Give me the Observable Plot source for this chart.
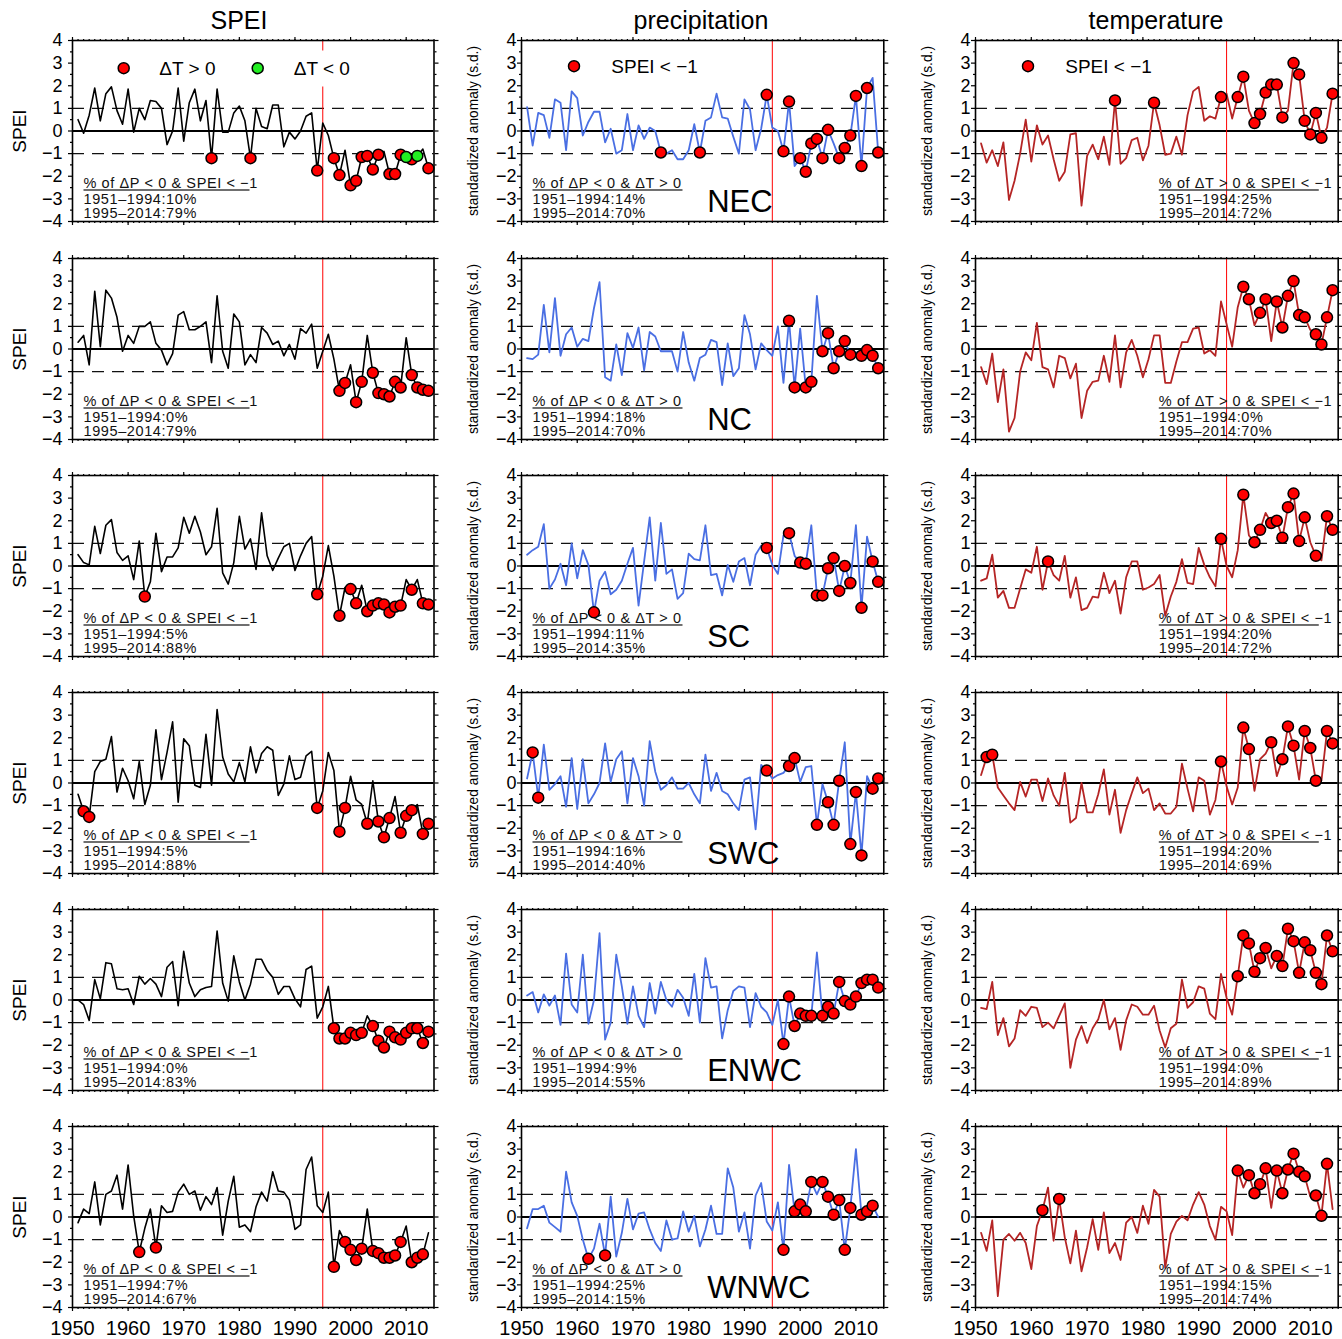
<!DOCTYPE html>
<html><head><meta charset="utf-8">
<script src="https://cdn.jsdelivr.net/npm/d3@7"></script>
<script src="https://cdn.jsdelivr.net/npm/@observablehq/plot@0.6"></script>
<style>
body{margin:0;background:#fff;}
#root{position:relative;width:1342px;height:1339px;font-family:"Liberation Sans",Arial,Helvetica,sans-serif;overflow:hidden;background:#fff;}
.title{position:absolute;top:8px;font-size:25px;line-height:25px;transform:translateX(-50%);white-space:nowrap;color:#000;}
.panel{position:absolute;line-height:0;}
.panel svg{max-width:none !important;display:block;}
</style></head><body><div id="root"></div>
<script>
// ---------- data (1951–2014) ----------
const years = d3.range(1951, 2015);
const regions = ["NEC", "NC", "SC", "SWC", "ENWC", "WNWC"];
const columnTitles = ["SPEI", "precipitation", "temperature"];
const yLabels = ["SPEI", "standardized anomaly (s.d.)", "standardized anomaly (s.d.)"];
const yTicks = [-4, -3, -2, -1, 0, 1, 2, 3, 4];
const yMinorTicks = [-3.5, -2.5, -1.5, -0.5, 0.5, 1.5, 2.5, 3.5];
const xTicks = [1950, 1960, 1970, 1980, 1990, 2000, 2010];
const xMinorTicks = d3.range(1950, 2016);
const splitYear = 1995;

const speiNEC = [0.5,-0.1,0.7,1.9,0.45,1.65,1.95,0.9,0.3,1.85, -0.05,1.0,0.5,1.35,1.3,1.0,-0.6,0.0,1.9,-0.45, 1.25,1.85,0.45,1.35,-1.2,1.85,-0.05,-0.05,0.8,1.1, 0.45,-1.2,1.0,0.2,0.1,1.15,1.15,-0.7,-0.05,-0.35, 0.0,0.65,0.8,-1.75,0.35,-0.2,-1.2,-1.95,-0.85,-2.4, -2.2,-1.15,-1.1,-1.7,-1.05,-0.9,-1.9,-1.9,-1.05,-1.15, -1.25,-1.1,-0.8,-1.65];
const speiNC = [0.3,0.6,-0.7,2.55,0.1,2.6,2.25,1.4,-0.1,0.6, 0.25,1.0,1.0,1.2,0.25,-0.05,-0.7,-0.2,1.5,1.65, 0.85,0.85,1.0,1.2,-0.6,2.35,-0.1,-0.85,1.55,1.2, -0.7,-0.25,-0.6,0.95,0.7,0.2,0.35,-0.3,0.2,-0.45, 0.9,0.7,1.1,-0.85,-0.1,0.65,-0.45,-1.85,-1.5,-0.7, -2.35,-1.45,0.6,-1.05,-1.95,-2.0,-2.1,-1.45,-1.7,0.5, -1.15,-1.7,-1.8,-1.85];
const speiSC = [0.5,0.15,0.05,1.75,0.55,1.8,2.05,0.6,0.25,0.45, -0.6,1.1,-1.35,-0.7,1.45,-0.25,0.4,0.4,0.8,2.15, 1.45,2.2,1.5,0.5,0.85,2.55,-0.3,-0.8,0.15,2.2, 0.75,1.2,-0.15,2.35,0.45,-0.2,0.35,0.85,1.0,-0.2, 0.45,1.0,1.3,-1.25,-0.45,0.9,-0.45,-2.2,-0.95,-1.02, -1.65,-0.85,-2.0,-1.75,-1.65,-1.7,-2.05,-1.8,-1.75,-0.6, -1.05,-0.6,-1.65,-1.7];
const speiSWC = [-0.5,-1.25,-1.5,0.5,0.95,1.05,2.05,-0.4,0.65,0.1, -0.7,0.95,-0.95,-0.1,2.35,0.15,1.35,2.7,-0.85,1.95, 1.65,-0.1,-0.2,2.15,-0.1,3.25,1.15,0.4,0.05,0.9, 0.05,1.6,0.45,1.3,1.6,1.45,-0.55,-0.05,1.2,0.15, 0.25,1.2,1.4,-1.1,-0.35,1.35,0.55,-2.15,-1.1,0.3, -0.75,-0.95,-1.8,0.1,-1.7,-2.4,-1.55,-0.6,-2.2,-1.45, -1.2,-0.95,-2.25,-1.8];
const speiENWC = [0.0,-0.2,-0.9,0.9,0.05,1.65,1.6,0.5,0.45,0.5, -0.2,1.05,0.7,0.95,0.7,0.15,1.45,1.7,-0.25,2.15, 0.75,0.15,0.45,0.55,0.6,3.05,0.75,-0.05,1.95,0.8, 0.0,0.7,1.8,1.8,1.3,1.0,0.25,0.6,0.6,0.05, -0.3,1.35,1.5,-0.8,-0.3,0.6,-1.25,-1.7,-1.7,-1.45, -1.55,-1.45,-0.7,-1.15,-1.8,-2.1,-1.4,-1.65,-1.75,-1.45, -1.25,-1.25,-1.9,-1.4];
const speiWNWC = [-0.25,0.35,0.15,1.55,-0.35,1.0,1.15,1.85,0.35,2.3, 0.05,-1.55,-0.5,0.35,-1.35,0.5,0.2,0.25,1.1,1.45, 1.0,1.15,0.3,0.9,0.55,1.3,-0.8,0.7,1.8,-0.45, -0.35,-0.65,0.45,1.1,0.7,2.0,1.15,1.1,0.75,-0.55, -0.35,2.1,2.65,0.5,0.2,1.1,-2.2,-0.6,-1.1,-1.45, -1.9,-1.4,0.35,-1.5,-1.6,-1.8,-1.8,-1.7,-1.1,-0.4, -2.0,-1.8,-1.65,-0.7];

const precNEC = [1.05,-0.65,0.8,0.7,-0.3,1.4,1.25,-0.85,1.75,1.45, -0.2,0.4,0.85,0.85,-0.5,0.1,-1.0,-0.85,0.75,-0.85, 0.25,-0.35,0.15,0.0,-0.95,-1.0,-0.85,-1.25,-1.25,-0.85, 0.3,-0.95,0.45,0.6,1.65,0.6,0.55,-0.25,-1.0,1.4, 0.95,-0.85,0.1,1.6,0.15,0.0,-0.9,1.3,-1.55,-1.2, -1.8,-0.55,-0.35,-1.2,0.05,-0.55,-1.2,-0.75,-0.2,1.55, -1.55,1.9,2.35,-0.95];
const precNC = [-0.4,-0.45,-0.25,1.95,-0.15,2.25,-0.3,0.65,0.95,0.1, 0.45,0.35,1.8,2.95,-1.25,-1.4,0.2,-1.15,0.7,0.05, 0.95,-0.95,0.75,0.55,-0.1,-0.1,-0.1,-1.0,0.75,-0.6, -1.4,-0.4,-0.25,0.4,0.3,-1.6,0.25,-1.2,-0.85,1.5, 0.65,-0.9,0.25,-0.05,-0.3,1.0,-1.5,1.25,-1.7,0.9, -1.7,-1.45,2.35,-0.1,0.7,-0.85,-0.1,0.35,-0.25,-0.15, -0.3,-0.05,-0.3,-0.85];
const precSC = [0.5,0.7,0.85,1.85,-1.0,-0.6,0.1,-0.85,1.0,-0.55, 0.7,0.05,-2.05,-0.65,-0.25,-1.25,-1.05,-0.65,0.1,0.8, -1.75,0.2,2.15,-0.65,1.9,-0.35,-0.15,-1.45,-1.2,0.55, 0.3,0.25,1.8,-0.4,-0.35,-1.3,0.05,-0.7,0.2,0.35, -0.85,0.5,0.9,0.8,0.05,-0.35,1.35,1.45,0.45,0.15, 0.1,1.8,-1.3,-1.3,-0.1,0.35,-1.1,0.0,-0.75,1.8, -1.85,1.3,0.2,-0.7];
const precSWC = [0.2,1.35,-0.65,1.7,-0.3,-0.05,0.3,-1.05,1.1,-1.15, 1.05,-0.9,-0.5,0.0,1.75,0.05,1.05,1.4,-0.9,1.1, 0.3,-1.0,1.85,0.5,-0.3,-0.1,0.25,-0.25,-0.25,0.0, -0.5,-0.9,1.25,-0.35,0.45,-0.35,-0.5,-0.9,-1.2,0.15, 0.25,-2.05,0.8,0.55,0.2,0.35,0.45,0.75,1.1,0.05, 0.7,0.75,-1.85,-0.05,-0.85,-1.85,0.1,1.8,-2.7,-0.4, -3.2,0.3,-0.25,0.2];
const precENWC = [0.2,0.35,-0.55,0.25,-0.25,0.2,-1.1,2.05,-0.2,-0.55, 2.0,-1.05,0.0,2.95,-1.75,-1.0,2.0,0.6,-1.05,0.6, -0.7,-1.2,0.75,-0.6,0.8,0.0,-0.3,0.45,0.1,-0.7, 1.15,-1.0,1.85,0.55,0.6,-1.7,-0.45,0.4,0.6,0.55, -1.2,0.3,-0.3,-0.55,-1.1,0.0,-1.95,0.15,-1.15,-0.6, -0.7,-0.7,2.1,-0.7,-0.3,-0.6,0.8,-0.05,-0.2,0.15, 0.75,0.9,0.9,0.55];
const precWNWC = [-0.5,0.35,0.35,0.5,-0.25,-0.45,-0.65,2.0,0.65,0.05, -1.0,-1.85,-1.4,-0.3,-1.7,0.9,-1.75,-0.7,0.8,-0.55, 0.15,0.2,-0.55,-1.15,-1.5,-0.15,-1.0,-0.95,0.25,-0.65, 0.05,-1.3,-0.55,0.5,-0.75,-0.75,2.15,1.3,-0.65,0.2, -1.4,0.95,1.5,-0.2,-0.6,0.65,-1.45,2.3,0.25,0.55, 0.25,1.55,1.0,1.55,0.9,0.1,0.75,-1.45,0.4,3.0, 0.1,0.25,0.5,0.0];

const tempNEC = [-0.55,-1.4,-0.85,-1.55,-0.5,-3.05,-2.2,-1.0,0.5,-1.35, 0.25,-0.6,-0.2,-1.25,-2.2,-1.8,-0.15,-0.1,-3.3,-1.1, -0.6,-1.25,-0.25,-1.5,1.35,-1.45,-1.2,-0.4,-0.3,-1.3, -0.65,1.25,0.25,-1.05,-1.0,-0.25,-1.05,0.7,1.75,1.95, 0.45,0.65,0.55,1.5,1.65,0.55,1.5,2.4,0.9,0.35, 0.75,1.7,2.05,2.05,0.6,0.9,3.0,2.5,0.45,-0.15, 0.8,-0.3,0.15,1.65];
const tempNC = [-0.8,-1.55,-0.2,-2.35,-0.9,-3.65,-3.05,-1.0,-0.15,-0.5, 1.15,-0.8,-0.9,-1.7,-0.3,-0.4,-1.3,-0.65,-3.05,-1.85, -1.45,-1.4,-0.3,-1.45,0.6,-1.7,-0.15,0.4,-0.3,-1.25, -0.45,0.6,0.6,-1.5,-1.5,-0.55,0.3,0.3,0.9,0.95, -0.2,-0.05,-0.3,2.1,1.1,0.1,1.85,2.75,2.2,1.05, 1.6,2.2,0.35,2.1,0.95,2.35,3.0,1.5,1.4,0.85, 0.65,0.2,1.4,2.6];
const tempSC = [-0.65,-0.55,0.5,-1.4,-1.1,-1.85,-1.85,-1.0,-0.15,-0.3, 0.85,-1.05,0.2,-0.4,-0.65,0.45,-1.4,-0.5,-1.95,-1.85, -1.35,-1.4,-0.3,-1.2,-0.65,-2.1,-0.5,0.2,0.2,-1.05, -0.95,-0.8,-0.4,-2.2,-1.35,-0.7,0.3,-0.75,-0.8,0.8, 0.05,-0.5,-0.9,1.2,0.0,-0.5,0.7,3.15,1.35,1.05, 1.6,2.35,1.9,2.0,1.25,2.6,3.2,1.1,2.15,1.05, 0.45,0.25,2.2,1.6];
const tempSWC = [0.35,1.15,1.25,-0.2,-0.55,-0.9,-1.2,0.05,-0.6,0.15, 0.15,-0.8,0.2,-0.55,-1.0,0.45,-1.75,-1.55,0.0,-1.3, -1.3,-0.5,0.6,-1.4,-0.3,-2.2,-1.2,-0.45,0.25,-0.45, -0.25,-1.2,-0.9,-1.35,-1.35,-1.05,0.85,-0.25,-1.25,0.25, 0.1,-1.4,-0.75,0.95,-0.15,-0.95,-0.2,2.45,1.5,-0.35, 1.05,1.3,1.8,0.3,1.05,2.5,1.65,0.15,2.3,1.55, 0.1,0.1,2.3,1.75];
const tempENWC = [-0.35,-0.4,0.8,-1.55,-0.8,-2.05,-1.7,-0.45,-0.7,-0.3, -0.35,-1.2,-1.0,-1.25,-0.7,-0.15,-3.0,-1.75,-1.15,-1.9, -1.25,-0.85,0.0,-1.3,-0.8,-2.2,-0.9,-0.2,-0.3,-0.65, -0.65,-0.25,-1.35,-2.1,-1.25,-1.05,0.9,-0.35,-0.1,0.6, 0.5,-0.6,-0.85,1.15,0.1,-0.65,1.05,2.85,2.5,1.25, 1.85,2.3,1.4,1.95,1.5,3.15,2.6,1.2,2.55,2.2, 1.2,0.7,2.85,2.15];
const tempWNWC = [-0.7,-1.5,-0.15,-3.5,-1.0,-0.75,-1.05,-0.7,-1.15,-2.3, -0.4,0.3,1.3,-1.05,0.8,-0.9,-2.05,-0.6,-2.4,-1.35, -0.1,-1.45,0.2,-1.6,-1.15,-1.9,-0.25,0.0,-0.7,0.5, -0.3,1.2,0.9,-2.25,-0.75,-0.2,0.05,-0.15,0.55,1.1, 0.55,-0.4,-1.0,0.45,0.25,-0.8,2.05,1.3,1.85,1.05, 1.45,2.15,0.4,2.05,1.05,2.1,2.8,2.0,1.8,0.9, 0.95,0.05,2.35,0.35];

// years with SPEI < -1 (marked in all three columns of a row)
const dotsNEC = [1975,1982,1994,1997,1998,2000,2001,2002,2003,2004,2005,2007,2008,2009,2010,2011,2012,2014];
const dotsNC = [1998,1999,2001,2002,2004,2005,2006,2007,2008,2009,2011,2012,2013,2014];
const dotsSC = [1963,1994,1998,2000,2001,2003,2004,2005,2006,2007,2008,2009,2011,2013,2014];
const dotsSWC = [1952,1953,1994,1998,1999,2003,2005,2006,2007,2009,2010,2011,2013,2014];
const dotsENWC = [1997,1998,1999,2000,2001,2002,2004,2005,2006,2007,2008,2009,2010,2011,2012,2013,2014];
const dotsWNWC = [1962,1965,1997,1999,2000,2001,2002,2004,2005,2006,2007,2008,2009,2011,2012,2013];
// SPEI < -1 with ΔT < 0 (green, NEC only)
const greenNEC = [2010, 2012];

const annTitles = ["% of \u0394P < 0 & SPEI < \u22121", "% of \u0394P < 0 & \u0394T > 0", "% of \u0394T > 0 & SPEI < \u22121"];
const pctSPEI1 = [10, 0, 5, 5, 0, 7];
const pctSPEI2 = [79, 79, 88, 88, 83, 67];
const pctPrec1 = [14, 18, 11, 16, 9, 25];
const pctPrec2 = [70, 70, 35, 40, 55, 15];
const pctTemp1 = [25, 0, 20, 20, 0, 15];
const pctTemp2 = [72, 70, 72, 69, 89, 74];

// ---------- tables built from the arrays ----------
const seriesTable = [
  [speiNEC, speiNC, speiSC, speiSWC, speiENWC, speiWNWC],
  [precNEC, precNC, precSC, precSWC, precENWC, precWNWC],
  [tempNEC, tempNC, tempSC, tempSWC, tempENWC, tempWNWC]
];
const dotTable = [dotsNEC, dotsNC, dotsSC, dotsSWC, dotsENWC, dotsWNWC];
const greenTable = [greenNEC, [], [], [], [], []];
const pctTable = [[pctSPEI1, pctSPEI2], [pctPrec1, pctPrec2], [pctTemp1, pctTemp2]];

// ---------- layout ----------
const colLeft = [71.5, 521, 975];
const colWidth = [361.5, 362.3, 362.7];
const rowTop = [40, 257.5, 474.8, 692.3, 909, 1126];
const panelH = 181;
const lineColors = ["#000000", "#4a6fe3", "#b52525"];
const FONT = '"Liberation Sans", Arial, Helvetica, sans-serif';
const minus = d => d < 0 ? "\u2212" + Math.abs(d) : String(d);
const blank = () => "";

const root = document.getElementById("root");
columnTitles.forEach((t, c) => {
  const div = document.createElement("div");
  div.className = "title";
  div.textContent = t;
  div.style.left = [239, 701, 1156][c] + "px";
  root.appendChild(div);
});

function panel(row, col) {
  const W = colWidth[col], H = panelH;
  const lastRow = row === regions.length - 1;
  const mL = 72, mR = 4, mT = 12, mB = lastRow ? 44 : 12;
  const series = seriesTable[col][row];
  const data = years.map((year, i) => ({year, value: series[i]}));
  const dotYears = dotTable[row], green = greenTable[row];
  const redDots = data.filter(d => dotYears.includes(d.year) && !(col === 0 && green.includes(d.year)));
  const greenDots = data.filter(d => col === 0 && green.includes(d.year));

  const marks = [
    Plot.ruleY([-1, 1], {stroke: "#111", strokeWidth: 1.1, strokeDasharray: "12,8"}),
    Plot.ruleY([0], {stroke: "#000", strokeWidth: 2}),
    Plot.ruleX([splitYear], {stroke: "#ff0000", strokeWidth: 1})
  ];
  if (row === 0 && col === 0) {
    marks.push(Plot.frame({fill: "white", stroke: "none", insetLeft: 23, insetRight: W - 294, insetTop: 10, insetBottom: H - 46}));
  }
  marks.push(Plot.line(data, {x: "year", y: "value", stroke: lineColors[col], strokeWidth: col === 0 ? 1.6 : 1.8}));
  marks.push(Plot.dot(redDots, {x: "year", y: "value", r: 5.5, fill: "#ff0000", stroke: "#000", strokeWidth: 1.5}));
  if (greenDots.length) marks.push(Plot.dot(greenDots, {x: "year", y: "value", r: 5.5, fill: "#22ee22", stroke: "#000", strokeWidth: 1.5}));

  // annotation block
  const ax = col === 2 ? 183.3 : 11;
  const ulLen = [166, 150, 160][col];
  const [p1, p2] = pctTable[col];
  const annLines = [annTitles[col], `1951\u20131994:${p1[row]}%`, `1995\u20132014:${p2[row]}%`];
  [142.5, 159, 172.7].forEach((dy, k) => {
    marks.push(Plot.text([annLines[k]], {frameAnchor: "top-left", dx: ax, dy, textAnchor: "start", lineAnchor: "middle", fontSize: 14.5, fill: "#111"}));
  });
  marks.push(Plot.frame({fill: "#333", stroke: "none", insetLeft: ax, insetRight: W - ax - ulLen, insetTop: 148.8, insetBottom: H - 150.2}));

  // region label
  if (col === 1) {
    marks.push(Plot.text([regions[row]], {frameAnchor: "top-left", dx: 185.7, dy: 161.5, textAnchor: "start", lineAnchor: "middle", fontSize: 31, fill: "#000"}));
  }
  // legends (top row)
  if (row === 0) {
    if (col === 0) {
      marks.push(Plot.dot([0], {frameAnchor: "top-left", dx: 51.2, dy: 27.7, r: 5.5, fill: "#ff0000", stroke: "#000", strokeWidth: 1.5}));
      marks.push(Plot.text(["\u0394T > 0"], {frameAnchor: "top-left", dx: 86.8, dy: 28, textAnchor: "start", lineAnchor: "middle", fontSize: 19}));
      marks.push(Plot.dot([0], {frameAnchor: "top-left", dx: 185.2, dy: 27.7, r: 5.5, fill: "#22ee22", stroke: "#000", strokeWidth: 1.5}));
      marks.push(Plot.text(["\u0394T < 0"], {frameAnchor: "top-left", dx: 221.2, dy: 28, textAnchor: "start", lineAnchor: "middle", fontSize: 19}));
    } else {
      marks.push(Plot.dot([0], {frameAnchor: "top-left", dx: 52.5, dy: 25.7, r: 5.5, fill: "#ff0000", stroke: "#000", strokeWidth: 1.5}));
      marks.push(Plot.text(["SPEI < \u22121"], {frameAnchor: "top-left", dx: 89.8, dy: 26.5, textAnchor: "start", lineAnchor: "middle", fontSize: 19}));
    }
  }
  // y label
  marks.push(Plot.text([yLabels[col]], {frameAnchor: "left", dx: col === 0 ? -52.7 : -48, rotate: -90, textAnchor: "middle", lineAnchor: "middle", fontSize: col === 0 ? 19 : 13.8, fill: "#000"}));

  // axes
  const tk = {stroke: "#000", strokeWidth: 1.2, label: null};
  marks.push(
    Plot.axisY({...tk, ticks: yTicks, anchor: "left", tickSize: 4, tickPadding: col === 0 ? 6 : 1, fontSize: 18, tickFormat: minus}),
    Plot.axisY({...tk, ticks: yMinorTicks, anchor: "left", tickSize: 2, tickFormat: blank}),
    Plot.axisY({...tk, ticks: yTicks, anchor: "right", tickSize: 4, tickFormat: blank}),
    Plot.axisY({...tk, ticks: yMinorTicks, anchor: "right", tickSize: 2, tickFormat: blank}),
    Plot.axisX({...tk, ticks: xTicks, anchor: "top", tickSize: 4, tickFormat: blank}),
    Plot.axisX({...tk, ticks: xMinorTicks, anchor: "top", tickSize: 2, tickFormat: blank}),
    Plot.axisX({...tk, ticks: xTicks, anchor: "bottom", tickSize: 4, tickPadding: 9, fontSize: 20, tickFormat: lastRow ? (d => String(d)) : blank}),
    Plot.axisX({...tk, ticks: xMinorTicks, anchor: "bottom", tickSize: 2, tickFormat: blank}),
    Plot.frame({stroke: "#000", strokeWidth: 1.6})
  );

  const totalW = mL + W + mR, totalH = mT + H + mB;
  const svg = Plot.plot({
    width: totalW,
    height: totalH,
    marginLeft: mL, marginRight: mR, marginTop: mT, marginBottom: mB,
    x: {domain: [1950, 2015]},
    y: {domain: [-4, 4]},
    style: {fontFamily: FONT, background: "transparent", color: "#000", overflow: "visible", maxWidth: "none"},
    marks
  });
  // the annotation font in the reference is set slightly wide
  svg.querySelectorAll("text").forEach(t => {
    if (/^(1951|1995|% of)/.test(t.textContent)) t.setAttribute("letter-spacing", "0.6");
  });
  const wrap = document.createElement("div");
  wrap.className = "panel";
  wrap.style.left = (colLeft[col] - mL) + "px";
  wrap.style.top = (rowTop[row] - mT) + "px";
  wrap.style.width = totalW + "px";
  wrap.style.height = totalH + "px";
  wrap.appendChild(svg);
  root.appendChild(wrap);
}

for (let r = 0; r < regions.length; r++) for (let c = 0; c < 3; c++) panel(r, c);
</script>
</body></html>
